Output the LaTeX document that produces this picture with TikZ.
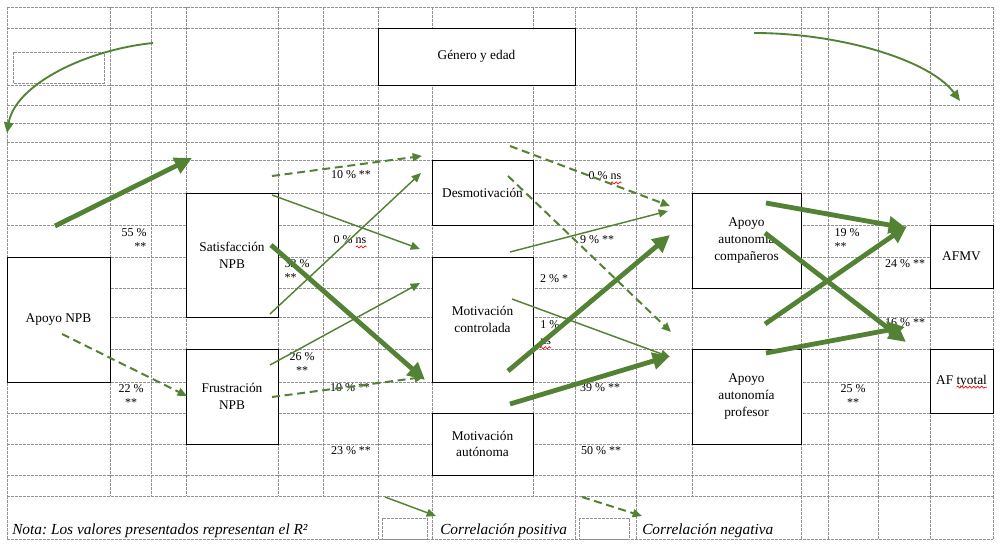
\documentclass[tikz,border=0pt]{standalone}
\usepackage{fontspec}
\setmainfont{Liberation Serif}
\usetikzlibrary{arrows.meta,calc,decorations.pathmorphing}

\definecolor{pathgreen}{RGB}{84,130,53}
\definecolor{gridgray}{RGB}{145,145,145}
\newcommand\varfont{\fontsize{10}{12.5}\selectfont}
\newcommand\pctfont{\fontsize{9}{10.5}\selectfont}
\newcommand\notefont{\fontsize{11.5}{13}\selectfont\itshape\frenchspacing}

\tikzset{
  cell/.style={draw=gridgray, line width=0.7pt, dash pattern=on 2.2pt off 0.8pt},
  var/.style={draw, fill=white, line width=0.7pt, inner sep=1pt, font=\varfont},
  varml/.style={var, align=center},
  pct/.style={inner sep=0pt, font=\pctfont},
  posarr/.style={pathgreen, line width=1.1pt, -{Triangle[length=7pt,width=6pt]}},
  negarr/.style={pathgreen, line width=1.5pt, dash pattern=on 6pt off 3.5pt, -{Triangle[length=7pt,width=6pt]}},
  bigarr/.style={pathgreen, line width=3.6pt, -{Triangle[length=13pt,width=12.5pt]}},
  ctrlarr/.style={pathgreen, line width=1.4pt, -{Triangle[length=8pt,width=7pt]}},
  spell/.style={red, line width=0.5pt, decorate, decoration={snake, amplitude=0.8pt, segment length=3pt}},
}

\begin{document}
\begin{tikzpicture}[x=0.75pt, y=-0.75pt]
  \useasboundingbox (0,0) rectangle (1001,549);

  % table grid behind the model
  \foreach \y in {7,28,85,105,123,142,160,193,225,257,288,317,349,382,413,444,475,496,539}
    \draw[cell] (7,\y) -- (993,\y);
  \foreach \x in {7,110,151,186,278,323,378,432,533,575,636,692,801,828,878,930,993}
    \draw[cell] (\x,7) -- (\x,496);
  \foreach \x in {7,378,432,575,636,801,828,878,930,993}
    \draw[cell] (\x,496) -- (\x,539);
  \draw[cell] (13,52) rectangle (104,83);
  \draw[cell] (382,518) rectangle (427,539);
  \draw[cell] (579,518) rectangle (629,539);

  % variables
  \node[var, minimum width=147.75pt, minimum height=42.75pt] (gen) at (476.5,56.5) {Género y edad};
  \node[var, minimum width=77.25pt, minimum height=93.75pt] (apoyo) at (58.5,319.5) {Apoyo NPB};
  \node[varml, minimum width=69pt, minimum height=93pt] (sat) at (232,255) {Satisfacción\\NPB};
  \node[varml, minimum width=69pt, minimum height=71.25pt] (fru) at (232,396.5) {Frustración\\NPB};
  \node[var, minimum width=75.75pt, minimum height=48.75pt] (desm) at (482.5,192.5) {Desmotivación};
  \node[varml, minimum width=75.75pt, minimum height=93.75pt] (mcon) at (482.5,319.5) {Motivación\\controlada};
  \node[varml, minimum width=75.75pt, minimum height=46.5pt] (maut) at (482.5,444) {Motivación\\autónoma};
  \node[varml, minimum width=81.75pt, minimum height=71.25pt] (acomp) at (746.5,240.5) {Apoyo\\autonomía\\compañeros};
  \node[varml, minimum width=81.75pt, minimum height=71.25pt] (aprof) at (746.5,396.5) {Apoyo\\autonomía\\profesor};
  \node[var, minimum width=47.25pt, minimum height=47.25pt] (afmv) at (961.5,256.5) {AFMV};
  \node[var, minimum width=47.25pt, minimum height=48pt] (aftot) at (961.5,381) {AF tyotal};

  % R2 values
  \node[pct, align=right] (r55) at (134,240) {55 \%\\**};
  \node[pct, align=center] (r22) at (131,396) {22 \%\\**};
  \node[pct] (r10a) at (351,175) {10 \% **};
  \node[pct] (r0a) at (350,240) {0 \% ns};
  \node[pct, align=left] (r32) at (297,271) {32 \%\\**};
  \node[pct, align=center] (r26) at (302,364) {26 \%\\**};
  \node[pct] (r10b) at (350,388) {10 \% **};
  \node[pct] (r23) at (351,451) {23 \% **};
  \node[pct] (r0b) at (605,176) {0 \% ns};
  \node[pct] (r9) at (597,240) {9 \% **};
  \node[pct] (r2) at (554,279) {2 \% *};
  \node[pct, anchor=west] (r1a) at (540,325) {1 \%};
  \node[pct, anchor=west] (r1b) at (540,342) {ns};
  \node[pct] (r39) at (600,388) {39 \% **};
  \node[pct] (r50) at (601,451) {50 \% **};
  \node[pct, align=left] (r19) at (847,240) {19 \%\\**};
  \node[pct] (r24) at (905,264) {24 \% **};
  \node[pct] (r16) at (905,323) {16 \% **};
  \node[pct, align=center] (r25) at (853,396) {25 \%\\**};

  % ends of the paths
  \coordinate (genL1) at (153,43);   \coordinate (genL2) at (7,133);
  \coordinate (genR1) at (754,33);   \coordinate (genR2) at (960,101);
  \coordinate (apSat1) at (55,226);  \coordinate (apSat2) at (192,158);
  \coordinate (apFru1) at (62,334);  \coordinate (apFru2) at (187,396);
  \coordinate (saDes1) at (272,176); \coordinate (saDes2) at (422,156);
  \coordinate (saMc1) at (272,195);  \coordinate (saMc2) at (420,249);
  \coordinate (saDesB1) at (270,314); \coordinate (saDesB2) at (421,173);
  \coordinate (saMcB1) at (271,245); \coordinate (saMcB2) at (425,380);
  \coordinate (frMc1) at (270,365);  \coordinate (frMc2) at (420,283);
  \coordinate (frMcD1) at (272,397); \coordinate (frMcD2) at (424,377);
  \coordinate (deCom1) at (510,146); \coordinate (deCom2) at (670,206);
  \coordinate (deProf1) at (508,176); \coordinate (deProf2) at (671,332);
  \coordinate (mcCom1) at (510,252); \coordinate (mcCom2) at (668,211);
  \coordinate (mcComB1) at (508,371); \coordinate (mcComB2) at (670,235);
  \coordinate (mcProf1) at (512,299); \coordinate (mcProf2) at (670,357);
  \coordinate (maProf1) at (510,404); \coordinate (maProf2) at (670,356);
  \coordinate (coAfmv1) at (766,203); \coordinate (coAfmv2) at (906,228);
  \coordinate (coAft1) at (765,233); \coordinate (coAft2) at (906,342);
  \coordinate (prAfmv1) at (765,324); \coordinate (prAfmv2) at (907,226);
  \coordinate (prAft1) at (766,353); \coordinate (prAft2) at (905,327);

  % paths
  \draw[ctrlarr] (genL1) .. controls (85,50) and (15,85) .. (genL2);
  \draw[ctrlarr] (genR1) .. controls (840,33) and (930,60) .. (genR2);
  \draw[bigarr] (apSat1) -- (apSat2);
  \draw[negarr] (apFru1) -- (apFru2);
  \draw[negarr] (saDes1) -- (saDes2);
  \draw[posarr] (saMc1) -- (saMc2);
  \draw[posarr] (saDesB1) -- (saDesB2);
  \draw[bigarr] (saMcB1) -- (saMcB2);
  \draw[posarr] (frMc1) -- (frMc2);
  \draw[negarr] (frMcD1) -- (frMcD2);
  \draw[negarr] (deCom1) -- (deCom2);
  \draw[negarr] (deProf1) -- (deProf2);
  \draw[posarr] (mcCom1) -- (mcCom2);
  \draw[bigarr] (mcComB1) -- (mcComB2);
  \draw[posarr] (mcProf1) -- (mcProf2);
  \draw[bigarr] (maProf1) -- (maProf2);
  \draw[bigarr] (coAfmv1) -- (coAfmv2);
  \draw[bigarr] (coAft1) -- (coAft2);
  \draw[bigarr] (prAfmv1) -- (prAfmv2);
  \draw[bigarr] (prAft1) -- (prAft2);

  % spelling marks
  \draw[spell] ($(r0a.base east)+(-10.7,3)$) -- ($(r0a.base east)+(0,3)$);
  \draw[spell] ($(r0b.base east)+(-10.7,3)$) -- ($(r0b.base east)+(0,3)$);
  \draw[spell] ($(r1b.base west)+(0,3)$) -- ($(r1b.base east)+(0,3)$);
  \draw[spell] ($(aftot.text)+(20.4,3)$) -- ($(aftot.text)+(50.8,3)$);

  % legend
  \coordinate (legP1) at (385,497); \coordinate (legP2) at (436,516);
  \coordinate (legN1) at (582,497); \coordinate (legN2) at (642,516);
  \draw[posarr] (legP1) -- (legP2);
  \draw[negarr] (legN1) -- (legN2);
  \node[anchor=west, inner sep=0pt, font=\notefont] (nota) at (12,531) {Nota: Los valores presentados representan el R²};
  \node[anchor=west, inner sep=0pt, font=\notefont] (legpos) at (440,531) {Correlación positiva};
  \node[anchor=west, inner sep=0pt, font=\notefont] (legneg) at (642,531) {Correlación negativa};
\end{tikzpicture}
\end{document}
